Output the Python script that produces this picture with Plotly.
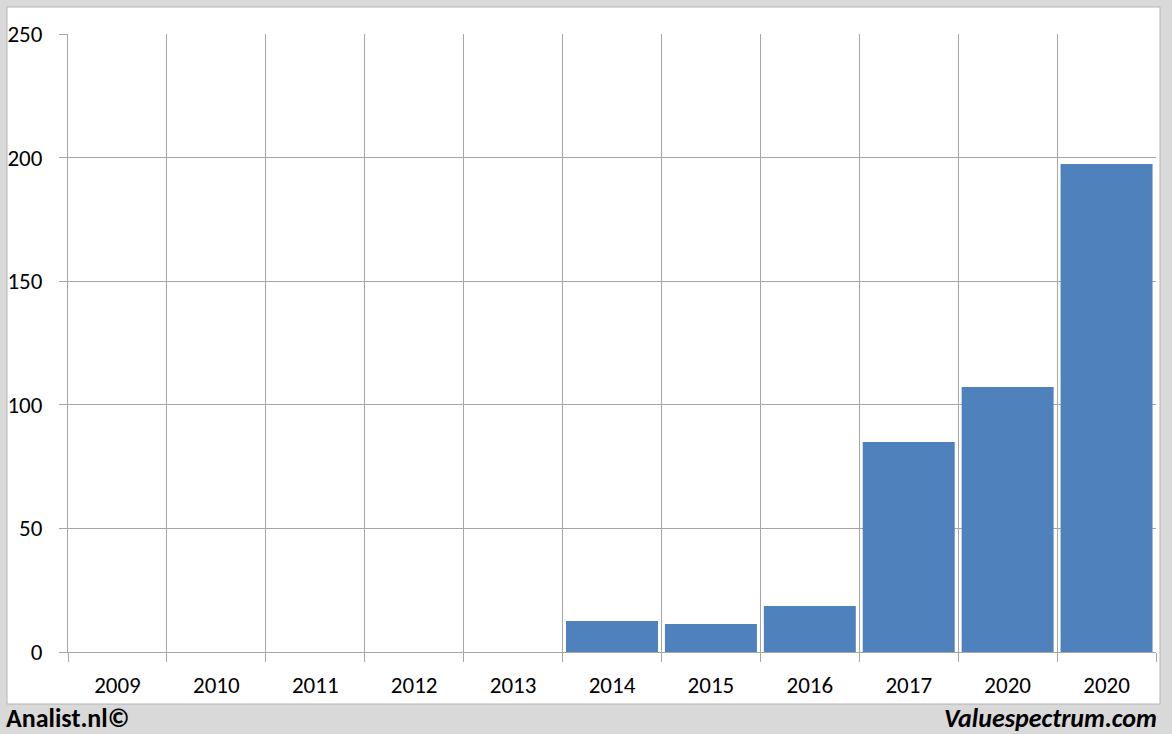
import plotly.graph_objects as go

years = ["2009", "2010", "2011", "2012", "2013", "2014", "2015", "2016", "2017", "2020", "2020"]
values = [None, None, None, None, None, 12.5, 11.3, 18.6, 85.0, 107.2, 197.4]
positions = list(range(len(years)))
y_ticks = [0, 50, 100, 150, 200, 250]

W, H = 1172, 734
L, R, T, B = 68, 16, 34, 82
pw, ph = W - L - R, H - T - B

def px_x(p):
    return (p - L) / pw

def px_y(p):
    return (H - B - p) / ph

fig = go.Figure()
fig.add_trace(go.Bar(x=positions, y=values, marker=dict(color="#4f81bd", line=dict(width=0)),
                     hoverinfo="skip"))

grid_col = "#a6a6a6"
fnt = "Carlito, Lato, sans-serif"
fig.update_layout(
    template="none",
    width=W, height=H,
    margin=dict(l=L, r=R, t=T, b=B, pad=0, autoexpand=False),
    paper_bgcolor="#d9d9d9",
    plot_bgcolor="white",
    bargap=0.07,
    showlegend=False,
    font=dict(family=fnt, color="#000000", size=20),
    xaxis=dict(
        automargin=False,
        range=[-0.5, len(years) - 0.5],
        tickmode="array", tickvals=positions, ticktext=years,
        ticks="", showgrid=False, zeroline=False,
        showline=True, linecolor=grid_col, linewidth=1,
        tickfont=dict(size=23), ticklabelstandoff=12,
        minor=dict(tickmode="array",
                   tickvals=[p - 0.5 for p in positions] + [len(years) - 0.5],
                   showgrid=True, gridcolor=grid_col, gridwidth=1,
                   ticks="outside", ticklen=9, tickcolor=grid_col, tickwidth=1),
        fixedrange=True,
    ),
    yaxis=dict(
        automargin=False,
        range=[0, 250], tickmode="array", tickvals=y_ticks,
        showgrid=True, gridcolor=grid_col, gridwidth=1,
        ticks="outside", ticklen=8, tickcolor=grid_col, tickwidth=1,
        zeroline=False,
        showline=True, linecolor=grid_col, linewidth=1,
        tickfont=dict(size=23), ticklabelstandoff=12,
        fixedrange=True,
    ),
    shapes=[dict(type="rect", xref="paper", yref="paper",
                 x0=px_x(7), x1=px_x(1160), y0=px_y(704), y1=px_y(7),
                 fillcolor="white", line=dict(color="#b4b4b4", width=1), layer="below")],
    annotations=[
        dict(text="<b>Analist.nl©</b>", xref="paper", yref="paper",
             x=px_x(4), y=px_y(718), xanchor="left", yanchor="middle",
             showarrow=False, font=dict(size=26, family=fnt)),
        dict(text="<b><i>Valuespectrum.com</i></b>", xref="paper", yref="paper",
             x=px_x(1159), y=px_y(718), xanchor="right", yanchor="middle",
             showarrow=False, font=dict(size=26, family=fnt)),
    ],
)

fig.write_html("out.html", config={"displayModeBar": False, "staticPlot": True},
               post_script="document.body.style.margin='0';document.body.style.overflow='hidden';")
